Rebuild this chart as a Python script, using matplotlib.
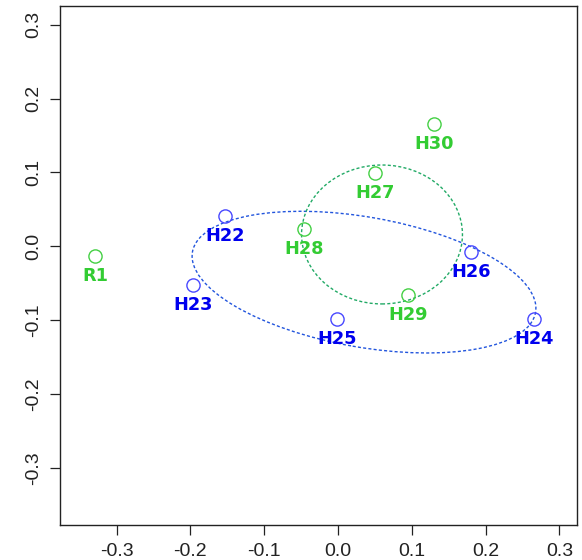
import matplotlib
matplotlib.use("Agg")
import matplotlib.pyplot as plt
from matplotlib.patches import Ellipse

# Data
labels = ["R1", "H22", "H23", "H25", "H26", "H24", "H27", "H28", "H29", "H30"]
xs = [-0.3293, -0.1531, -0.196, -0.001, 0.1798, 0.2656, 0.0501, -0.0457, 0.0953, 0.1305]
ys = [-0.0131, 0.0414, -0.0524, -0.0988, -0.0073, -0.0984, 0.0996, 0.023, -0.0659, 0.1655]
groups = ["G", "B", "B", "B", "B", "B", "G", "G", "G", "G"]

# ellipses: center x, center y, width, height, angle
ell_blue = (0.0352, -0.0485, 0.472, 0.176, -10)
ell_green = (0.0596, 0.016, 0.218, 0.188, 0)

ticks = [-0.3, -0.2, -0.1, 0.0, 0.1, 0.2, 0.3]
tick_labels = ["-0.3", "-0.2", "-0.1", "0.0", "0.1", "0.2", "0.3"]

marker_col = {"B": "#4848FF", "G": "#44D044"}
text_col = {"B": "#0000EE", "G": "#33CC33"}

fig = plt.figure(figsize=(5.82, 5.60), dpi=100)
ax = fig.add_axes([60 / 582, 1 - 524.5 / 560, (577 - 60) / 582, (524.5 - 6) / 560])

ax.add_patch(Ellipse((ell_blue[0], ell_blue[1]), ell_blue[2], ell_blue[3], angle=ell_blue[4],
                     fill=False, edgecolor="#2255DD", lw=1.0, linestyle=(0, (2.2, 1.6))))
ax.add_patch(Ellipse((ell_green[0], ell_green[1]), ell_green[2], ell_green[3], angle=ell_green[4],
                     fill=False, edgecolor="#22AA66", lw=1.0, linestyle=(0, (2.2, 1.6))))

for x, y, lab, g in zip(xs, ys, labels, groups):
    ax.plot([x], [y], marker="o", ms=9.5, mfc="none", mec=marker_col[g], mew=1.0, ls="none")
    ax.annotate(lab, (x, y), xytext=(0, -14.5), textcoords="offset points", ha="center", va="center",
                color=text_col[g], fontsize=12.8, fontweight="bold", family="DejaVu Sans")

ax.set_xlim(-0.3767, 0.3238)
ax.set_ylim(-0.3765, 0.3252)
ax.set_xticks(ticks)
ax.set_xticklabels(tick_labels, family="Liberation Sans", fontsize=14, color="#222222")
ax.set_yticks(ticks)
ax.set_yticklabels(tick_labels, family="Liberation Sans", fontsize=14, color="#222222",
                   rotation=90, va="center")
ax.tick_params(length=7, width=0.9, color="#222222", pad=6)
for s in ax.spines.values():
    s.set_linewidth(1.0)
    s.set_color("#222222")

fig.savefig("out.png", dpi=100)
